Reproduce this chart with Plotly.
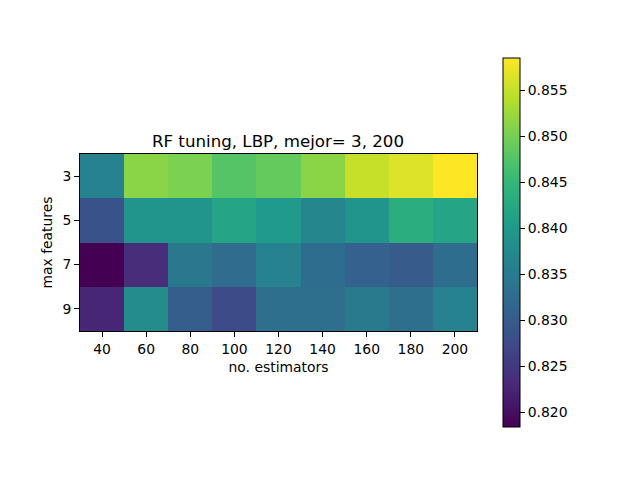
import plotly.graph_objects as go

estimators = [40, 60, 80, 100, 120, 140, 160, 180, 200]
max_features = [3, 5, 7, 9]
row_3 = [0.8362, 0.8513, 0.8504, 0.8476, 0.8488, 0.8513, 0.8551, 0.8565, 0.8585]
row_5 = [0.8286, 0.8392, 0.8392, 0.8419, 0.8400, 0.8368, 0.8393, 0.8433, 0.8419]
row_7 = [0.8184, 0.8235, 0.8345, 0.8324, 0.8362, 0.8327, 0.8307, 0.8300, 0.8327]
row_9 = [0.8226, 0.8378, 0.8304, 0.8276, 0.8330, 0.8330, 0.8348, 0.8330, 0.8362]
cbar_ticks = [0.820, 0.825, 0.830, 0.835, 0.840, 0.845, 0.850, 0.855]

# The page body adds an 8 px margin, so the figure is placed 8 px in from the corner.
PAD = 8
W, H = 640 - PAD, 480 - PAD
def px(v):
    return (v - PAD) / W
def py(v):
    return 1 - (v - PAD) / H

font = dict(family="DejaVu Sans", size=13.9, color="black")

fig = go.Figure(go.Heatmap(
    z=[row_3, row_5, row_7, row_9],
    x=estimators,
    y=max_features,
    colorscale="Viridis",
    zmin=0.8184,
    zmax=0.8585,
    zsmooth=False,
    colorbar=dict(
        x=px(503), xanchor="left", xpad=0,
        y=py(427), yanchor="bottom", ypad=0,
        len=369 / H, lenmode="fraction",
        thickness=17, thicknessmode="pixels",
        outlinewidth=1, outlinecolor="black",
        tickvals=cbar_ticks, tickformat=".3f",
        ticks="outside", ticklen=5, tickwidth=1, tickcolor="black",
        tickfont=font,
    ),
))

fig.update_layout(
    width=W, height=H,
    margin=dict(l=0, r=0, t=0, b=0),
    paper_bgcolor="white", plot_bgcolor="white",
    font=font,
    title=dict(
        text="RF tuning, LBP, mejor= 3, 200",
        x=px(278), xanchor="center",
        y=py(141), yanchor="middle",
        font=dict(family="DejaVu Sans", size=16.67, color="black"),
    ),
    xaxis=dict(
        domain=[px(80), px(477)],
        range=[30, 210],
        tickvals=estimators,
        ticks="outside", ticklen=5, tickwidth=1, tickcolor="black",
        showgrid=False, zeroline=False,
        showline=True, linecolor="black", linewidth=1, mirror=True,
        title=dict(text="no. estimators", font=font, standoff=6),
        tickfont=font,
    ),
    yaxis=dict(
        domain=[py(331), py(154)],
        range=[10, 2],
        tickvals=max_features,
        ticks="outside", ticklen=5, tickwidth=1, tickcolor="black",
        showgrid=False, zeroline=False,
        showline=True, linecolor="black", linewidth=1, mirror=True,
        title=dict(text="max features", font=font, standoff=6),
        tickfont=font,
    ),
)

fig.write_html("out.html", config=dict(displayModeBar=False))
